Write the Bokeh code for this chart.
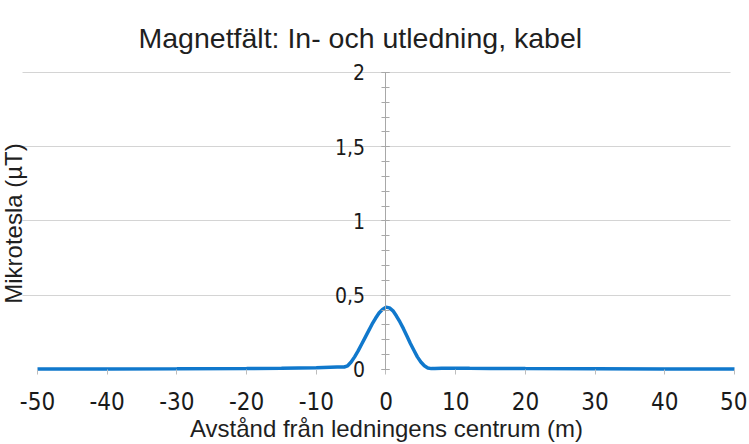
import math
from bokeh.plotting import figure
from bokeh.models import FixedTicker, SingleIntervalTicker, Label, Range1d
from bokeh.embed import file_html
from bokeh.resources import INLINE

# ---- data ----
distance_m = [-50, -40, -30, -20, -15, -10, -8, -7, -6, -5.5, -5, -4.5, -4, -3.5, -3,
              -2.5, -2, -1.5, -1, -0.5, 0, 0.5, 1, 1.5, 2, 2.5, 3, 3.5, 4, 4.5, 5,
              5.5, 6, 6.5, 7, 8, 10, 12, 15, 20, 30, 40, 50]
field_uT = [0.003, 0.004, 0.005, 0.007, 0.009, 0.012, 0.015, 0.016, 0.017, 0.025, 0.05,
            0.085, 0.125, 0.17, 0.215, 0.26, 0.305, 0.345, 0.38, 0.405, 0.42, 0.415,
            0.395, 0.36, 0.32, 0.275, 0.225, 0.175, 0.13, 0.085, 0.05, 0.025, 0.01,
            0.006, 0.006, 0.008, 0.009, 0.008, 0.007, 0.006, 0.005, 0.004, 0.004]

x_ticks = [-50, -40, -30, -20, -10, 0, 10, 20, 30, 40, 50]
x_tick_labels = ["-50", "-40", "-30", "-20", "-10", "0", "10", "20", "30", "40", "50"]
y_ticks = [0, 0.5, 1, 1.5, 2]
y_tick_labels = ["0", "0,5", "1", "1,5", "2"]

title_text = "Magnetfält: In- och utledning, kabel"
x_title = "Avstånd från ledningens centrum (m)"
y_title = "Mikrotesla (µT)"

W, H = 747, 442
TICK_FONT = "'DejaVu Sans Condensed', 'DejaVu Sans'"

# ---- figure: the frame fills the whole canvas so nothing is clipped ----
p = figure(width=W, height=H, output_backend="svg", toolbar_location=None,
           x_range=Range1d(-55.308, 51.865), y_range=Range1d(-0.4916, 2.4848),
           min_border_left=0, min_border_right=0, min_border_top=0,
           min_border_bottom=0)
p.title.visible = False
p.outline_line_color = None
p.background_fill_color = "white"
p.border_fill_color = "white"

# grid
p.xgrid.visible = False
p.ygrid.ticker = FixedTicker(ticks=y_ticks[1:])
p.ygrid.cross_bounds = (-52.15, 49.43)
p.ygrid.grid_line_color = "#d4d4d4"
p.ygrid.grid_line_width = 1

# x axis at y = 0
xa = p.xaxis[0]
xa.fixed_location = 0
xa.ticker = FixedTicker(ticks=x_ticks)
xa.major_label_overrides = dict(zip(x_ticks, x_tick_labels))
xa.axis_line_color = None
xa.major_tick_in = 0
xa.major_tick_out = 5
xa.minor_tick_line_color = None
xa.major_tick_line_color = "#bdbdbd"
xa.major_label_standoff = 18
xa.major_label_text_font = TICK_FONT
xa.major_label_text_font_size = "24px"
xa.major_label_text_color = "#1a1a1a"

# y axis at x = 0
ya = p.yaxis[0]
ya.fixed_location = 0
ya.bounds = (0, 2)
ya.ticker = SingleIntervalTicker(interval=0.5, num_minor_ticks=5)
ya.major_label_overrides = dict(zip(y_ticks, y_tick_labels))
ya.axis_line_color = "#a8a8a8"
ya.major_tick_line_color = "#a8a8a8"
ya.minor_tick_line_color = "#a8a8a8"
ya.major_tick_in = 4
ya.major_tick_out = 4
ya.minor_tick_in = 4
ya.minor_tick_out = 4
ya.major_label_standoff = 17
ya.major_label_text_font = TICK_FONT
ya.major_label_text_font_size = "21px"
ya.major_label_text_color = "#1a1a1a"

# data line
p.line(distance_m, field_uT, line_color="#1078cc", line_width=3.5)

# texts (screen px from the canvas' left / bottom edge)
p.add_layout(Label(x=138, y=H - 37, x_units="screen", y_units="screen", text=title_text,
                   text_font="Liberation Sans", text_font_size="28.5px",
                   text_color="#1f1f1f", text_align="left", text_baseline="alphabetic"))
p.add_layout(Label(x=13, y=H - 223, x_units="screen", y_units="screen", text=y_title,
                   angle=math.pi / 2, text_font="Liberation Sans",
                   text_font_size="24px", text_color="#1f1f1f",
                   text_align="center", text_baseline="middle"))
p.add_layout(Label(x=386, y=H - 428, x_units="screen", y_units="screen", text=x_title,
                   text_font="Liberation Sans", text_font_size="24px",
                   text_color="#1f1f1f", text_align="center", text_baseline="middle"))

open("out.html", "w").write(file_html(p, INLINE))
